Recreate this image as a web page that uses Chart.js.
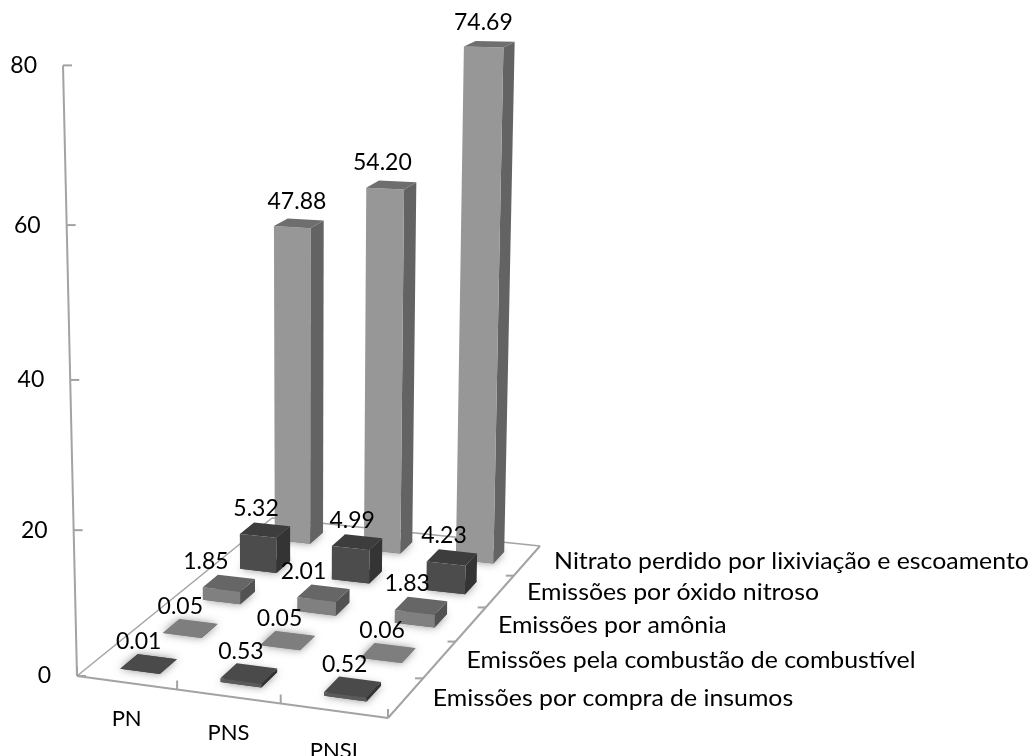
<!DOCTYPE html>
<html lang="pt">
<head>
  <meta charset="UTF-8">
  <title>Emissões por sistema</title>
  <script src="https://cdn.jsdelivr.net/npm/chart.js"></script>
  <style>
    html, body { margin: 0; background: #fff; }
    canvas { display: block; }
  </style>
</head>
<body>
  <canvas id="chart3d" width="1030" height="756"></canvas>

  <script>
    // Dados: sistemas e series, da frente para o fundo
    const categories = ['PN', 'PNS', 'PNSI'];
    const seriesNames = [
      'Emissões por compra de insumos',
      'Emissões pela combustão de combustível',
      'Emissões por amônia',
      'Emissões por óxido nitroso',
      'Nitrato perdido por lixiviação e escoamento'
    ];
    const compraInsumos = [0.01, 0.53, 0.52];
    const combustao = [0.05, 0.05, 0.06];
    const amonia = [1.85, 2.01, 1.83];
    const oxidoNitroso = [5.32, 4.99, 4.23];
    const nitrato = [47.88, 54.20, 74.69];
    const valueTicks = [0, 20, 40, 60, 80];

    // Cores de cada serie: frente, lateral, topo
    const palette = [
      ['#5a5a5a', '#333333', '#4a4a4a'],
      ['#7e7e7e', '#5a5a5a', '#7e7e7e'],
      ['#808080', '#525252', '#666666'],
      ['#4c4c4c', '#343434', '#3d3d3d'],
      ['#979797', '#636363', '#6e6e6e']
    ];

    // Cantos do piso e ponto de fuga vertical da perspectiva
    const floorA = [77, 676], floorB = [388, 718], floorC = [540, 546], floorD = [272, 518];
    const vanish = [301, 10450];
    const heightW = -0.0588;
    const depthGain = 0.011;
    const barShare = 0.4;
    const fontFamily = 'Lato, "Open Sans", sans-serif';
    const axisColor = '#a3a3a3';
    const seriesTextStretch = 1.08;

    // Ajuste horizontal dos rotulos de valor, por serie e sistema
    const labelNudge = [
      [-4, -2, -2],
      [-4, -2, 0],
      [-17, -14, -8],
      [-3, 1, -2],
      [4, -3, 0]
    ];
    const categoryDrop = [36, 36, 40];

    const hom = (function () {
      const [x0, y0] = floorA, [x1, y1] = floorB, [x2, y2] = floorC, [x3, y3] = floorD;
      const dx1 = x1 - x2, dx2 = x3 - x2, sx = x0 - x1 + x2 - x3;
      const dy1 = y1 - y2, dy2 = y3 - y2, sy = y0 - y1 + y2 - y3;
      const det = dx1 * dy2 - dx2 * dy1;
      const g = (sx * dy2 - dx2 * sy) / det;
      const h = (dx1 * sy - sx * dy1) / det;
      return { a: x1 - x0 + g * x1, b: x3 - x0 + h * x3, c: x0,
               d: y1 - y0 + g * y1, e: y3 - y0 + h * y3, f: y0, g, h };
    })();

    // u, v: posicao no piso (0-1); t: altura relativa ao eixo (0-1)
    function project(u, v, t) {
      const tt = t * (1 + depthGain * v);
      const w = hom.g * u + hom.h * v + 1 + heightW * tt;
      return [
        (hom.a * u + hom.b * v + hom.c + heightW * vanish[0] * tt) / w,
        (hom.d * u + hom.e * v + hom.f + heightW * vanish[1] * tt) / w
      ];
    }

    // Converte os valores em fracoes atraves das escalas do Chart.js
    const fracX = (chart, i) => (chart.scales.x.getPixelForTick(i) - chart.scales.x.left) / chart.scales.x.width;
    const fracZ = (chart, j) => (chart.scales.z.getPixelForTick(j) - chart.scales.z.left) / chart.scales.z.width;
    const fracY = (chart, value) => (chart.scales.y.bottom - chart.scales.y.getPixelForValue(value)) / chart.scales.y.height;

    function poly(ctx, pts, fill) {
      ctx.beginPath();
      pts.forEach((p, i) => i ? ctx.lineTo(p[0], p[1]) : ctx.moveTo(p[0], p[1]));
      ctx.closePath();
      ctx.fillStyle = fill;
      ctx.fill();
    }

    function line(ctx, a, b) {
      ctx.beginPath();
      ctx.moveTo(a[0], a[1]);
      ctx.lineTo(b[0], b[1]);
      ctx.stroke();
    }

    // Colunas em perspectiva: cada conjunto desenha as suas caixas
    class Bar3DController extends Chart.BarController {
      draw() {
        const chart = this.chart, ctx = chart.ctx;
        const j = this.index;
        const colors = this.getDataset().faces;
        const du = barShare / categories.length / 2;
        const dv = barShare / seriesNames.length / 2;
        const v = fracZ(chart, j);
        this.getDataset().data.forEach((val, i) => {
          const u = fracX(chart, i);
          const t = fracY(chart, val);
          const u0 = u - du, u1 = u + du, v0 = v - dv, v1 = v + dv;
          ctx.save();
          ctx.shadowColor = 'rgba(70,70,70,0.6)';
          ctx.shadowBlur = 8;
          poly(ctx, [project(u0, v0, 0), project(u1, v0, 0), project(u1, v1, 0), project(u0, v1, 0)], colors[2]);
          ctx.restore();
          poly(ctx, [project(u1, v0, 0), project(u1, v1, 0), project(u1, v1, t), project(u1, v0, t)], colors[1]);
          poly(ctx, [project(u0, v0, 0), project(u1, v0, 0), project(u1, v0, t), project(u0, v0, t)], colors[0]);
          poly(ctx, [project(u0, v0, t), project(u1, v0, t), project(u1, v1, t), project(u0, v1, t)], colors[2]);
        });
      }
    }
    Bar3DController.id = 'bar3d';
    Bar3DController.defaults = Chart.BarController.defaults;
    Chart.register(Bar3DController);

    // Piso e eixo de valores, atras das colunas
    const floorPlugin = {
      id: 'floor3d',
      beforeDatasetsDraw(chart) {
        const ctx = chart.ctx;
        ctx.save();
        ctx.strokeStyle = axisColor;
        ctx.lineWidth = 2;
        line(ctx, project(0, 0, 0), project(1, 0, 0));
        line(ctx, project(1, 0, 0), project(1, 1, 0));
        line(ctx, project(0, 0, 0), project(0, 0, 1));
        valueTicks.forEach(tick => {
          const p = project(0, 0, fracY(chart, tick));
          line(ctx, p, [p[0] + 9, p[1]]);
        });
        for (let i = 0; i <= categories.length; i++) {
          const p = project(i / categories.length, 0, 0);
          line(ctx, p, [p[0], p[1] - 9]);
        }
        for (let j = 1; j < seriesNames.length; j++) {
          const p = project(1, j / seriesNames.length, 0);
          line(ctx, p, [p[0] - 8, p[1]]);
        }
        ctx.lineWidth = 1.5;
        line(ctx, project(0, 0, 0), project(0, 1, 0));
        line(ctx, project(0, 1, 0), project(1, 1, 0));
        ctx.restore();
      }
    };

    // Textos: rotulos de valor e dos tres eixos
    const labelPlugin = {
      id: 'labels3d',
      afterDatasetsDraw(chart) {
        const ctx = chart.ctx;
        ctx.save();
        ctx.fillStyle = '#000';
        ctx.textBaseline = 'middle';
        ctx.font = '23px ' + fontFamily;

        ctx.textAlign = 'right';
        valueTicks.forEach(tick => {
          const p = project(0, 0, fracY(chart, tick));
          ctx.fillText(String(tick), p[0] - 26, p[1]);
        });

        ctx.textAlign = 'center';
        chart.data.datasets.forEach((ds, j) => {
          ds.data.forEach((val, i) => {
            const p = project(fracX(chart, i), fracZ(chart, j), fracY(chart, val));
            ctx.fillText(val.toFixed(2), p[0] - 6 + labelNudge[j][i], p[1] - 22);
          });
        });

        ctx.font = '22px ' + fontFamily;
        categories.forEach((name, i) => {
          const p = project(fracX(chart, i), 0, 0);
          ctx.fillText(name, p[0], p[1] + categoryDrop[i]);
        });

        // Nomes das series, um pouco alargados na horizontal
        ctx.textAlign = 'left';
        ctx.font = '23px ' + fontFamily;
        seriesNames.forEach((name, j) => {
          const p = project(1, fracZ(chart, j), 0);
          ctx.save();
          ctx.translate(p[0] + 27, p[1] + 1);
          ctx.scale(seriesTextStretch, 1);
          ctx.fillText(name, 0, 0);
          ctx.restore();
        });
        ctx.restore();
      }
    };

    const seriesValues = [compraInsumos, combustao, amonia, oxidoNitroso, nitrato];

    new Chart(document.getElementById('chart3d'), {
      type: 'bar3d',
      data: {
        labels: categories,
        datasets: seriesNames.map((name, j) => ({
          label: name,
          data: seriesValues[j],
          faces: palette[j],
          backgroundColor: palette[j][0]
        }))
      },
      options: {
        responsive: false,
        animation: false,
        layout: { padding: 0 },
        plugins: { legend: { display: false }, tooltip: { enabled: false } },
        scales: {
          x: { type: 'category', display: false, offset: true, ticks: { autoSkip: false } },
          z: { type: 'category', axis: 'x', labels: seriesNames, display: false, offset: true, ticks: { autoSkip: false } },
          y: { type: 'linear', display: false, min: 0, max: 80, ticks: { stepSize: 20 } }
        }
      },
      plugins: [floorPlugin, labelPlugin]
    });
  </script>
</body>
</html>
